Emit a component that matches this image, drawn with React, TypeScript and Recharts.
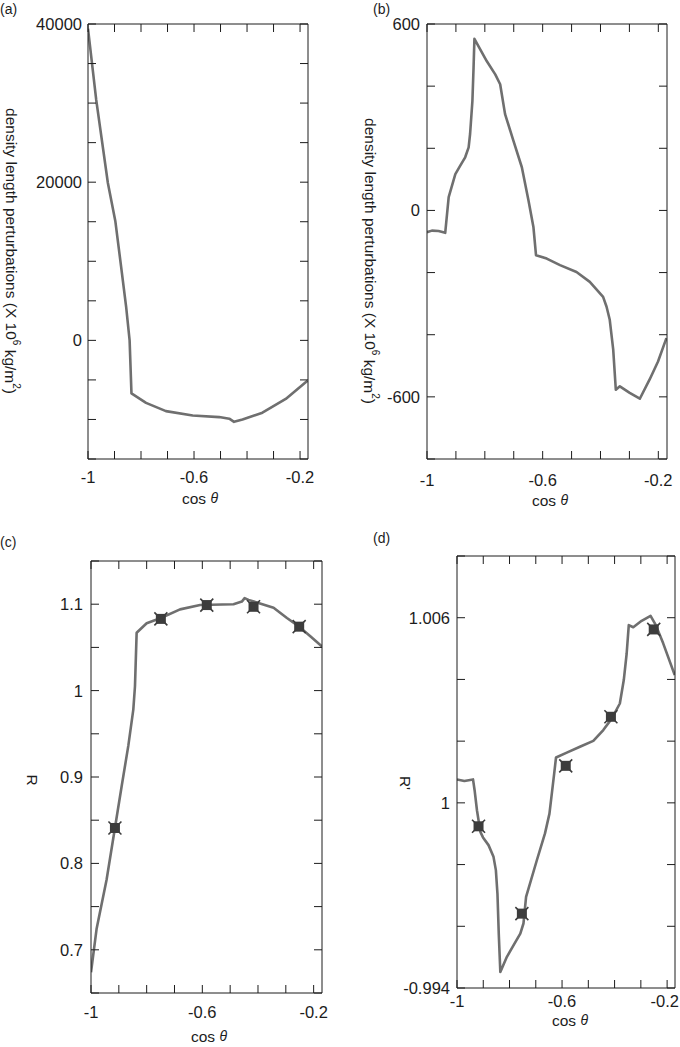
import React from 'react';
import { ComposedChart, Line, Scatter, XAxis, YAxis } from 'recharts';

const FONT = '"Liberation Sans", Arial, Helvetica, sans-serif';
const LINE_COLOR = '#6f6f6f';
const MARK_COLOR = '#3d3d3d';
const INK = '#1c1c1c';
const TICK_SIZE = 16.5;
const LABEL_SIZE = 15.5;

// shared cos(theta) axis
const xDomain = [-1, -0.17];
const xTicks = [-1, -0.9, -0.8, -0.7, -0.6, -0.5, -0.4, -0.3, -0.2];
const xLabelVals = [-1, -0.6, -0.2];
const xLabelText = ['-1', '-0.6', '-0.2'];

// (a) density length perturbations
const aCos = [-1, -0.969, -0.925, -0.897, -0.875, -0.856, -0.843, -0.836, -0.781, -0.706, -0.605, -0.505, -0.467, -0.449, -0.417, -0.342, -0.254, -0.172];
const aDensity = [39400, 30400, 19900, 15100, 9300, 4200, 0, -6700, -7900, -8950, -9500, -9700, -9900, -10300, -10000, -9150, -7400, -5100];
const aTicks = [-15000, -10000, -5000, 0, 5000, 10000, 15000, 20000, 25000, 30000, 35000, 40000];
const aLabelVals = [0, 20000, 40000];
const aLabelText = ['0', '20000', '40000'];

// (b) density length perturbations
const bCos = [-1, -0.983, -0.96, -0.937, -0.925, -0.902, -0.885, -0.868, -0.856, -0.851, -0.843, -0.839, -0.836, -0.816, -0.793, -0.764, -0.747, -0.73, -0.701, -0.672, -0.649, -0.632, -0.623, -0.586, -0.54, -0.483, -0.437, -0.391, -0.379, -0.368, -0.356, -0.347, -0.333, -0.299, -0.264, -0.23, -0.201, -0.172];
const bDensity = [-70, -65, -66, -72, 43, 117, 144, 171, 203, 246, 352, 459, 552, 518, 480, 438, 406, 310, 224, 139, 32, -53, -144, -155, -176, -198, -230, -278, -310, -352, -448, -577, -566, -587, -606, -544, -486, -411];
const bTicks = [-800, -600, -400, -200, 0, 200, 400, 600];
const bLabelVals = [-600, 0, 600];
const bLabelText = ['-600', '0', '600'];

// (c) R
const cCos = [-1, -0.98, -0.944, -0.914, -0.89, -0.866, -0.848, -0.842, -0.836, -0.8, -0.749, -0.68, -0.608, -0.488, -0.458, -0.448, -0.434, -0.344, -0.296, -0.252, -0.212, -0.17];
const cR = [0.674, 0.724, 0.781, 0.841, 0.889, 0.936, 0.978, 1.005, 1.067, 1.078, 1.084, 1.094, 1.099, 1.1, 1.103, 1.107, 1.105, 1.096, 1.084, 1.074, 1.063, 1.051];
const cMarkCos = [-0.914, -0.749, -0.584, -0.416, -0.252];
const cMarkR = [0.841, 1.083, 1.099, 1.097, 1.074];
const cTicks = [0.65, 0.7, 0.75, 0.8, 0.85, 0.9, 0.95, 1, 1.05, 1.1, 1.15];
const cLabelVals = [0.7, 0.8, 0.9, 1, 1.1];
const cLabelText = ['0.7', '0.8', '0.9', '1', '1.1'];

// (d) R'
const dCos = [-1, -0.972, -0.939, -0.933, -0.924, -0.911, -0.901, -0.88, -0.861, -0.852, -0.846, -0.841, -0.835, -0.81, -0.785, -0.759, -0.747, -0.737, -0.696, -0.665, -0.648, -0.63, -0.623, -0.582, -0.532, -0.481, -0.443, -0.411, -0.38, -0.365, -0.354, -0.346, -0.329, -0.297, -0.263, -0.243, -0.215, -0.171];
const dR = [1.00076, 1.00071, 1.00076, 1.00041, 0.99976, 0.99906, 0.99888, 0.99863, 0.99825, 0.99782, 0.99706, 0.99576, 0.99452, 0.99501, 0.99538, 0.99576, 0.99609, 0.99695, 0.99814, 0.99901, 0.99965, 1.00095, 1.00147, 1.00163, 1.00182, 1.00201, 1.00236, 1.00273, 1.00322, 1.00398, 1.00484, 1.00576, 1.00569, 1.0059, 1.00606, 1.00576, 1.00517, 1.00414];
const dMarkCos = [-0.918, -0.753, -0.586, -0.414, -0.251];
const dMarkR = [0.99924, 0.99641, 1.0012, 1.00279, 1.00562];
const dTicks = [0.994, 0.996, 0.998, 1, 1.002, 1.004, 1.006, 1.008];
const dLabelVals = [0.994, 1, 1.006];
const dLabelText = ['-0.994', '1', '1.006'];

const zip = (xs: number[], ys: number[]) => xs.map((x, i) => ({ x, y: ys[i] }));

const labeler = (vals: number[], texts: string[]) => (v: number) => {
  const i = vals.findIndex((l) => Math.abs(l - v) < 1e-7);
  return i >= 0 ? texts[i] : '';
};

// x tick text; maxX keeps the last label inside the svg
const xTick = (fmt: (v: number) => string, maxX = 9999) => (props: any) => {
  const text = fmt(props.payload.value);
  if (!text) return <g />;
  const half = text.length * 0.215 * TICK_SIZE;
  const x = Math.min(props.x, maxX - half);
  return (
    <text x={x} y={props.y} dy="0.71em" textAnchor="middle" fontSize={TICK_SIZE} fontFamily={FONT} fill={INK}>
      {text}
    </text>
  );
};

const yTick = (fmt: (v: number) => string) => (props: any) => {
  const text = fmt(props.payload.value);
  if (!text) return <g />;
  return (
    <text x={props.x} y={props.y} dy="0.36em" textAnchor="end" fontSize={TICK_SIZE} fontFamily={FONT} fill={INK}>
      {text}
    </text>
  );
};

const Marker = (props: any) => {
  const { cx, cy } = props;
  if (cx == null || cy == null) return null;
  return (
    <g>
      <rect x={cx - 5} y={cy - 5} width={10} height={10} fill={MARK_COLOR} />
      <path d={`M${cx - 6.5},${cy - 6.5}L${cx + 6.5},${cy + 6.5}M${cx + 6.5},${cy - 6.5}L${cx - 6.5},${cy + 6.5}`} stroke={MARK_COLOR} strokeWidth={1.6} />
    </g>
  );
};

const densityLabel = (x: number, y: number) => () => (
  <text x={x} y={y} transform={`rotate(90 ${x} ${y})`} textAnchor="middle" dominantBaseline="central" fontSize={LABEL_SIZE} fontFamily={FONT} fill={INK}>
    density length perturbations (X 10<tspan dy={-6} fontSize={10}>6</tspan>
    <tspan dy={6}> kg/m</tspan>
    <tspan dy={-6} fontSize={10}>2</tspan>
    <tspan dy={6}>)</tspan>
  </text>
);

const simpleYLabel = (text: string, x: number, y: number) => () => (
  <text x={x} y={y} transform={`rotate(90 ${x} ${y})`} textAnchor="middle" dominantBaseline="central" fontSize={LABEL_SIZE} fontFamily={FONT} fill={INK}>
    {text}
  </text>
);

const cosLabel = (x: number, y: number) => () => (
  <text x={x} y={y} textAnchor="middle" dominantBaseline="central" fontSize={LABEL_SIZE} fontFamily={FONT} fill={INK}>
    cos <tspan fontStyle="italic" fontSize={14}>θ</tspan>
  </text>
);

const letterLabel = (text: string, x: number, y: number) => () => (
  <text x={x} y={y} fontSize={14} fontFamily={FONT} fill={INK}>
    {text}
  </text>
);

interface PanelProps {
  left: number;
  top: number;
  width: number;
  height: number;
  box: { l: number; t: number; r: number; b: number };
  curve: { x: number; y: number }[];
  marks?: { x: number; y: number }[];
  yDomain: number[];
  yTicks: number[];
  yFormat: (v: number) => string;
  xTickMargin: number;
  yTickMargin: number;
  yLabel: any;
  xLabel: any;
  letter: any;
}

const Panel = (p: PanelProps) => {
  const margin = {
    top: p.box.t - 1,
    right: p.width - p.box.r - 1,
    bottom: p.height - p.box.b - 40,
    left: p.box.l - 60,
  };
  return (
    <div style={{ position: 'absolute', left: p.left, top: p.top, width: p.width, height: p.height }}>
      <ComposedChart width={p.width} height={p.height} margin={margin}>
        <XAxis xAxisId="bottom" type="number" dataKey="x" domain={xDomain} ticks={xTicks} allowDataOverflow interval={0}
          height={40} tickSize={-8} tickMargin={p.xTickMargin} stroke={INK}
          tick={xTick(labeler(xLabelVals, xLabelText), p.width - 1)} label={p.xLabel} />
        <XAxis xAxisId="top" orientation="top" type="number" dataKey="x" domain={xDomain} ticks={xTicks} allowDataOverflow interval={0}
          height={1} tickSize={-8} stroke={INK} tick={xTick(() => '')} label={p.letter} />
        <YAxis yAxisId="left" type="number" dataKey="y" domain={p.yDomain} ticks={p.yTicks} allowDataOverflow interval={0}
          width={60} tickSize={-8} tickMargin={p.yTickMargin} stroke={INK} tick={yTick(p.yFormat)} label={p.yLabel} />
        <YAxis yAxisId="right" orientation="right" type="number" dataKey="y" domain={p.yDomain} ticks={p.yTicks} allowDataOverflow interval={0}
          width={1} tickSize={-8} stroke={INK} tick={yTick(() => '')} />
        <Line xAxisId="bottom" yAxisId="left" data={p.curve} dataKey="y" type="linear" stroke={LINE_COLOR} strokeWidth={2.6}
          strokeLinejoin="round" dot={false} activeDot={false} isAnimationActive={false} />
        {p.marks && (
          <Scatter xAxisId="bottom" yAxisId="left" data={p.marks} dataKey="y" shape={Marker} isAnimationActive={false} />
        )}
      </ComposedChart>
    </div>
  );
};

export default function App() {
  return (
    <div style={{ position: 'absolute', left: 0, top: 0, width: 680, height: 1047, background: '#fff' }}>
      <Panel left={0} top={0} width={340} height={520} box={{ l: 88, t: 24, r: 308, b: 459 }}
        curve={zip(aCos, aDensity)} yDomain={[-15000, 40000]} yTicks={aTicks} yFormat={labeler(aLabelVals, aLabelText)}
        xTickMargin={20} yTickMargin={14}
        yLabel={densityLabel(11, 251)} xLabel={cosLabel(200, 498)} letter={letterLabel('(a)', 0, 14)} />
      <Panel left={340} top={0} width={340} height={520} box={{ l: 87, t: 24, r: 327, b: 459 }}
        curve={zip(bCos, bDensity)} yDomain={[-800, 600]} yTicks={bTicks} yFormat={labeler(bLabelVals, bLabelText)}
        xTickMargin={23} yTickMargin={15}
        yLabel={densityLabel(30, 261)} xLabel={cosLabel(210, 500)} letter={letterLabel('(b)', 33, 14)} />
      <Panel left={0} top={520} width={340} height={527} box={{ l: 91, t: 41, r: 322, b: 473 }}
        curve={zip(cCos, cR)} marks={zip(cMarkCos, cMarkR)} yDomain={[0.65, 1.15]} yTicks={cTicks}
        yFormat={labeler(cLabelVals, cLabelText)} xTickMargin={21} yTickMargin={16}
        yLabel={simpleYLabel('R', 32, 260)} xLabel={cosLabel(209, 516)} letter={letterLabel('(c)', 0, 27)} />
      <Panel left={340} top={520} width={340} height={527} box={{ l: 117, t: 36, r: 335, b: 468 }}
        curve={zip(dCos, dR)} marks={zip(dMarkCos, dMarkR)} yDomain={[0.994, 1.008]} yTicks={dTicks}
        yFormat={labeler(dLabelVals, dLabelText)} xTickMargin={15} yTickMargin={15}
        yLabel={simpleYLabel("R'", 65, 263)} xLabel={cosLabel(230, 500)} letter={letterLabel('(d)', 33, 23)} />
    </div>
  );
}
